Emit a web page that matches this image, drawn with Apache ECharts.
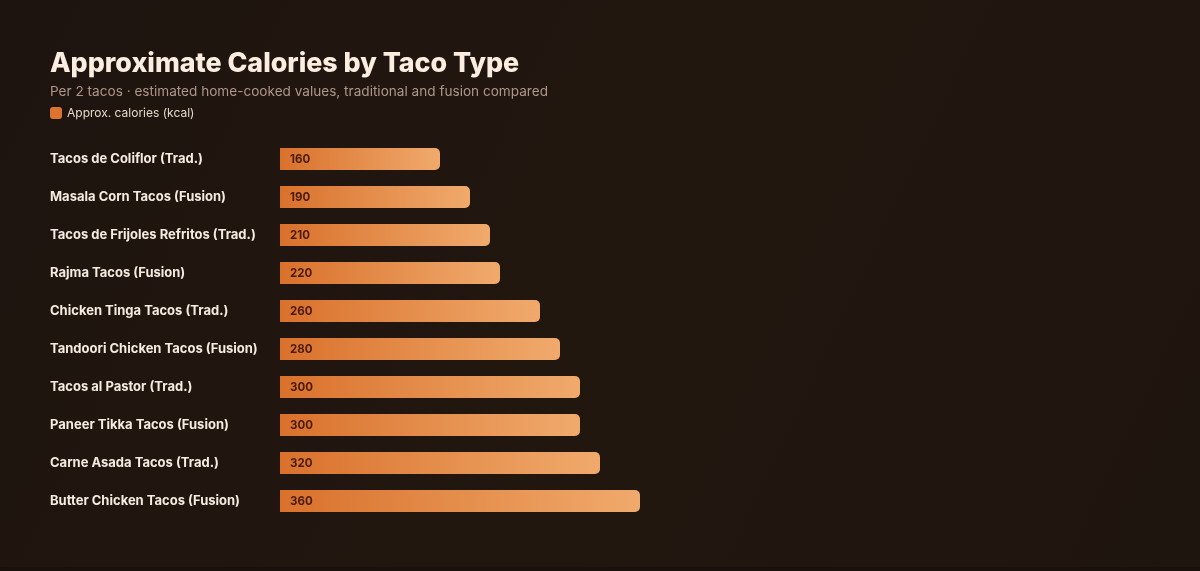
<!DOCTYPE html>
<html>
<head>
<meta charset="utf-8">
<title>Approximate Calories by Taco Type</title>
<script src="https://cdn.jsdelivr.net/npm/echarts@6/dist/echarts.min.js"></script>
<style>
  html, body { margin: 0; padding: 0; background: #1a110c; }
  #chart { width: 1200px; height: 567px; }
</style>
</head>
<body>
<div id="chart"></div>
<script>
// data
var tacoNames = [
  'Tacos de Coliflor (Trad.)',
  'Masala Corn Tacos (Fusion)',
  'Tacos de Frijoles Refritos (Trad.)',
  'Rajma Tacos (Fusion)',
  'Chicken Tinga Tacos (Trad.)',
  'Tandoori Chicken Tacos (Fusion)',
  'Tacos al Pastor (Trad.)',
  'Paneer Tikka Tacos (Fusion)',
  'Carne Asada Tacos (Trad.)',
  'Butter Chicken Tacos (Fusion)'
];
var calories = [160, 190, 210, 220, 260, 280, 300, 300, 320, 360];
var seriesName = 'Approx. calories (kcal)';

var chart = echarts.init(document.getElementById('chart'));
var option = {
  backgroundColor: new echarts.graphic.LinearGradient(0, 0, 1, 1, [
    { offset: 0, color: '#1e140f' },
    { offset: 0.5, color: '#22170f' },
    { offset: 1, color: '#1f150f' }
  ]),
  textStyle: { fontFamily: 'Inter, "Noto Sans", sans-serif' },
  title: {
    text: 'Approximate Calories by Taco Type',
    subtext: 'Per 2 tacos · estimated home-cooked values, traditional and fusion compared',
    left: 50,
    top: 50,
    padding: 0,
    itemGap: 8,
    textStyle: {
      color: '#fbeee0',
      fontSize: 26.8,
      fontWeight: 800,
      fontFamily: 'Inter, sans-serif'
    },
    subtextStyle: {
      color: '#b0968a',
      fontSize: 13.6,
      fontFamily: 'Inter, sans-serif'
    }
  },
  legend: {
    left: 50,
    top: 107,
    padding: 0,
    itemWidth: 12,
    itemHeight: 12,
    itemGap: 6,
    icon: 'roundRect',
    data: [{ name: seriesName, itemStyle: { color: '#dc742f' } }],
    textStyle: { color: '#e8d8c8', fontSize: 12 }
  },
  grid: {
    left: 280,
    right: 20,
    top: 140,
    bottom: 47,
    containLabel: false
  },
  xAxis: {
    type: 'value',
    min: 0,
    max: 900,
    show: false
  },
  yAxis: {
    type: 'category',
    inverse: true,
    data: tacoNames,
    axisLine: { show: false },
    axisTick: { show: false },
    axisLabel: {
      align: 'left',
      margin: 230,
      color: '#f5ebe0',
      fontSize: 13,
      fontWeight: 700
    }
  },
  series: [
    {
      name: seriesName,
      type: 'bar',
      data: calories,
      barWidth: 22,
      itemStyle: {
        borderRadius: [0, 5, 5, 0],
        color: new echarts.graphic.LinearGradient(0, 0, 1, 0, [
          { offset: 0, color: '#d9712c' },
          { offset: 1, color: '#f0aa6c' }
        ])
      },
      label: {
        show: true,
        position: 'insideLeft',
        offset: [5, 1],
        color: '#4a1a0c',
        fontSize: 11.5,
        fontWeight: 700
      }
    }
  ]
};
chart.setOption(option);
</script>
</body>
</html>
